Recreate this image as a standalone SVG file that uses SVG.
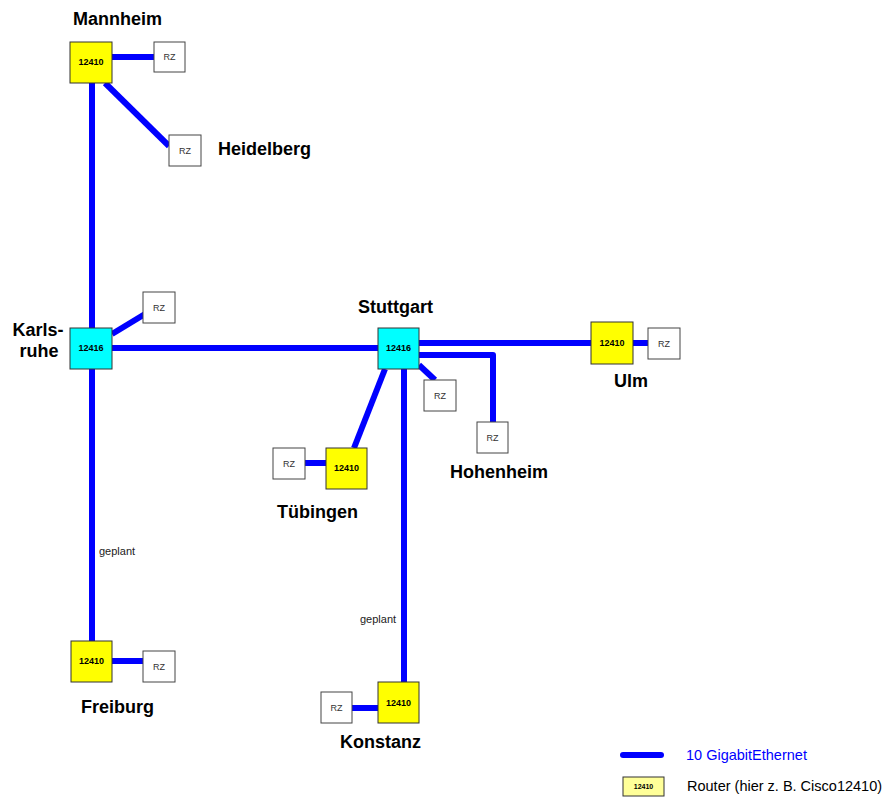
<svg xmlns="http://www.w3.org/2000/svg" width="889" height="798" viewBox="0 0 889 798">
<style>
.ln{stroke:#0000ff;stroke-width:6;fill:none;stroke-linejoin:round}
.r410{fill:#ffff00;stroke:#333;stroke-width:1}
.r416{fill:#00ffff;stroke:#333;stroke-width:1}
.rz{fill:#fff;stroke:#444;stroke-width:1}
.nt{font-family:"Liberation Sans",Arial,sans-serif;font-weight:bold;font-size:9px;fill:#000;text-anchor:middle}
.rt{font-family:"Liberation Sans",Arial,sans-serif;font-size:9px;fill:#333;text-anchor:middle}
.city{font-family:"Liberation Sans",Arial,sans-serif;font-weight:bold;font-size:18px;fill:#000}
.sm{font-family:"Liberation Sans",Arial,sans-serif;font-size:11px;fill:#222}
.lg{font-family:"Liberation Sans",Arial,sans-serif;font-size:14.5px}
</style>
<rect width="889" height="798" fill="#fff"/>
<g id="connectors">
<line class="ln" x1="112" y1="57" x2="154" y2="57"/>
<line class="ln" x1="105" y1="83" x2="169" y2="146"/>
<line class="ln" x1="92" y1="83" x2="92" y2="328"/>
<line class="ln" x1="112" y1="334" x2="145" y2="314"/>
<line class="ln" x1="112" y1="348" x2="378" y2="348"/>
<line class="ln" x1="92" y1="369" x2="92" y2="641"/>
<line class="ln" x1="112" y1="661" x2="143" y2="661"/>
<line class="ln" x1="419" y1="343" x2="591" y2="343"/>
<line class="ln" x1="633" y1="343" x2="648" y2="343"/>
<polyline class="ln" points="419,355 493,355 493,422"/>
<line class="ln" x1="419" y1="365" x2="435" y2="380"/>
<line class="ln" x1="385" y1="369" x2="354" y2="448"/>
<line class="ln" x1="305" y1="463" x2="326" y2="463"/>
<line class="ln" x1="404" y1="369" x2="404" y2="682"/>
<line class="ln" x1="352" y1="708" x2="378" y2="708"/>
</g>
<g id="mannheim"><rect class="r410" x="70" y="42" width="42" height="41"/><text class="nt" x="91" y="65">12410</text><text class="city" x="73" y="25">Mannheim</text></g>
<g id="mannheim-rz"><rect class="rz" x="154" y="42" width="31" height="30"/><text class="rt" x="169.5" y="60">RZ</text></g>
<g id="heidelberg-rz"><rect class="rz" x="169" y="135" width="32" height="31"/><text class="rt" x="185" y="154">RZ</text><text class="city" x="218" y="155">Heidelberg</text></g>
<g id="karlsruhe"><rect class="r416" x="70" y="328" width="42" height="41"/><text class="nt" x="91" y="351">12416</text><text class="city" x="38" y="336" text-anchor="middle">Karls-</text><text class="city" x="39" y="357" text-anchor="middle">ruhe</text></g>
<g id="karlsruhe-rz"><rect class="rz" x="143" y="292" width="32" height="31"/><text class="rt" x="159" y="311">RZ</text></g>
<g id="stuttgart"><rect class="r416" x="378" y="328" width="41" height="41"/><text class="nt" x="398.5" y="351">12416</text><text class="city" x="358" y="313">Stuttgart</text></g>
<g id="stuttgart-rz"><rect class="rz" x="424" y="380" width="32" height="31"/><text class="rt" x="440" y="399">RZ</text></g>
<g id="hohenheim-rz"><rect class="rz" x="477" y="422" width="31" height="31"/><text class="rt" x="492.5" y="441">RZ</text><text class="city" x="450" y="478">Hohenheim</text></g>
<g id="ulm"><rect class="r410" x="591" y="322" width="42" height="42"/><text class="nt" x="612" y="346">12410</text><text class="city" x="614" y="387">Ulm</text></g>
<g id="ulm-rz"><rect class="rz" x="648" y="328" width="32" height="31"/><text class="rt" x="664" y="347">RZ</text></g>
<g id="tuebingen"><rect class="r410" x="326" y="448" width="41" height="41"/><text class="nt" x="346.5" y="471">12410</text><text class="city" x="277" y="518">Tübingen</text></g>
<g id="tuebingen-rz"><rect class="rz" x="273" y="448" width="32" height="31"/><text class="rt" x="289" y="467">RZ</text></g>
<g id="freiburg"><rect class="r410" x="71" y="641" width="41" height="41"/><text class="nt" x="91.5" y="664">12410</text><text class="city" x="81" y="713">Freiburg</text><text class="sm" x="99" y="555">geplant</text></g>
<g id="freiburg-rz"><rect class="rz" x="143" y="651" width="32" height="31"/><text class="rt" x="159" y="670">RZ</text></g>
<g id="konstanz"><rect class="r410" x="378" y="682" width="41" height="41"/><text class="nt" x="398.5" y="706">12410</text><text class="city" x="340" y="748">Konstanz</text><text class="sm" x="360" y="623">geplant</text></g>
<g id="konstanz-rz"><rect class="rz" x="321" y="692" width="31" height="31"/><text class="rt" x="336.5" y="711">RZ</text></g>
<g id="legend">
<line x1="623" y1="755" x2="661" y2="755" stroke="#0000ff" stroke-width="6" stroke-linecap="round"/>
<text class="lg" x="686" y="760" fill="#0000ff">10 GigabitEthernet</text>
<rect x="623" y="777" width="41" height="19" fill="#ffff99" stroke="#333" stroke-width="1"/>
<text x="643.5" y="789" font-family="Liberation Sans, Arial, sans-serif" font-weight="bold" font-size="7px" text-anchor="middle">12410</text>
<text class="lg" x="687" y="791" fill="#000">Router (hier z. B. Cisco12410)</text>
</g>
</svg>
